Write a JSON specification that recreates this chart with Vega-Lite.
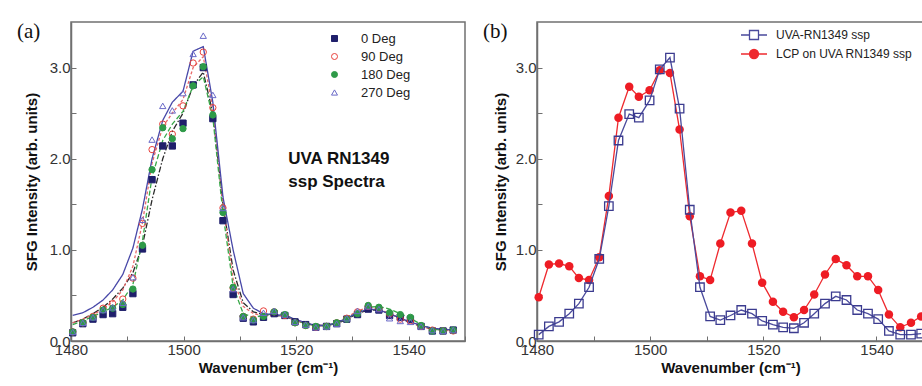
{
  "$schema": "https://vega.github.io/schema/vega-lite/v6.json",
  "background": "white",
  "padding": {"left": 16, "top": 20, "right": 0, "bottom": 0},
  "spacing": 15,
  "resolve": {
    "scale": {"x": "independent", "y": "independent", "color": "independent", "shape": "independent", "fill": "independent", "stroke": "independent", "strokeDash": "independent"},
    "legend": {"color": "independent", "shape": "independent", "fill": "independent", "stroke": "independent", "strokeDash": "independent"}
  },
  "datasets": {
    "a": [
      {"x":1480.3,"s":"0 Deg","y":0.09},{"x":1482.1,"s":"0 Deg","y":0.19},{"x":1483.9,"s":"0 Deg","y":0.24},{"x":1485.7,"s":"0 Deg","y":0.29},{"x":1487.4,"s":"0 Deg","y":0.30},{"x":1489.2,"s":"0 Deg","y":0.37},{"x":1491.0,"s":"0 Deg","y":0.52},{"x":1492.7,"s":"0 Deg","y":1.01},{"x":1494.4,"s":"0 Deg","y":1.77},{"x":1496.3,"s":"0 Deg","y":2.14},{"x":1498.0,"s":"0 Deg","y":2.14},{"x":1499.9,"s":"0 Deg","y":2.39},{"x":1501.7,"s":"0 Deg","y":2.81},{"x":1503.5,"s":"0 Deg","y":3.00},{"x":1505.2,"s":"0 Deg","y":2.44},{"x":1507.0,"s":"0 Deg","y":1.32},{"x":1508.8,"s":"0 Deg","y":0.51},{"x":1510.6,"s":"0 Deg","y":0.25},{"x":1512.4,"s":"0 Deg","y":0.21},{"x":1514.2,"s":"0 Deg","y":0.26},{"x":1516.1,"s":"0 Deg","y":0.30},{"x":1518.0,"s":"0 Deg","y":0.28},{"x":1519.8,"s":"0 Deg","y":0.21},{"x":1521.7,"s":"0 Deg","y":0.18},{"x":1523.5,"s":"0 Deg","y":0.15},{"x":1525.4,"s":"0 Deg","y":0.16},{"x":1527.2,"s":"0 Deg","y":0.19},{"x":1529.0,"s":"0 Deg","y":0.24},{"x":1530.9,"s":"0 Deg","y":0.29},{"x":1532.8,"s":"0 Deg","y":0.35},{"x":1534.7,"s":"0 Deg","y":0.34},{"x":1536.6,"s":"0 Deg","y":0.28},{"x":1538.5,"s":"0 Deg","y":0.26},{"x":1540.3,"s":"0 Deg","y":0.24},{"x":1542.2,"s":"0 Deg","y":0.16},{"x":1544.2,"s":"0 Deg","y":0.11},{"x":1546.1,"s":"0 Deg","y":0.11},{"x":1547.9,"s":"0 Deg","y":0.12},
      {"x":1480.3,"s":"90 Deg","y":0.10},{"x":1482.1,"s":"90 Deg","y":0.20},{"x":1483.9,"s":"90 Deg","y":0.27},{"x":1485.7,"s":"90 Deg","y":0.36},{"x":1487.4,"s":"90 Deg","y":0.41},{"x":1489.2,"s":"90 Deg","y":0.46},{"x":1491.0,"s":"90 Deg","y":0.69},{"x":1492.7,"s":"90 Deg","y":1.29},{"x":1494.4,"s":"90 Deg","y":2.10},{"x":1496.3,"s":"90 Deg","y":2.38},{"x":1498.0,"s":"90 Deg","y":2.27},{"x":1499.9,"s":"90 Deg","y":2.58},{"x":1501.7,"s":"90 Deg","y":3.05},{"x":1503.5,"s":"90 Deg","y":3.17},{"x":1505.2,"s":"90 Deg","y":2.56},{"x":1507.0,"s":"90 Deg","y":1.46},{"x":1508.8,"s":"90 Deg","y":0.58},{"x":1510.6,"s":"90 Deg","y":0.27},{"x":1512.4,"s":"90 Deg","y":0.24},{"x":1514.2,"s":"90 Deg","y":0.33},{"x":1516.1,"s":"90 Deg","y":0.32},{"x":1518.0,"s":"90 Deg","y":0.28},{"x":1519.8,"s":"90 Deg","y":0.20},{"x":1521.7,"s":"90 Deg","y":0.17},{"x":1523.5,"s":"90 Deg","y":0.15},{"x":1525.4,"s":"90 Deg","y":0.16},{"x":1527.2,"s":"90 Deg","y":0.20},{"x":1529.0,"s":"90 Deg","y":0.25},{"x":1530.9,"s":"90 Deg","y":0.32},{"x":1532.8,"s":"90 Deg","y":0.38},{"x":1534.7,"s":"90 Deg","y":0.36},{"x":1536.6,"s":"90 Deg","y":0.30},{"x":1538.5,"s":"90 Deg","y":0.24},{"x":1540.3,"s":"90 Deg","y":0.22},{"x":1542.2,"s":"90 Deg","y":0.16},{"x":1544.2,"s":"90 Deg","y":0.12},{"x":1546.1,"s":"90 Deg","y":0.11},{"x":1547.9,"s":"90 Deg","y":0.11},
      {"x":1480.3,"s":"180 Deg","y":0.10},{"x":1482.1,"s":"180 Deg","y":0.20},{"x":1483.9,"s":"180 Deg","y":0.26},{"x":1485.7,"s":"180 Deg","y":0.34},{"x":1487.4,"s":"180 Deg","y":0.36},{"x":1489.2,"s":"180 Deg","y":0.40},{"x":1491.0,"s":"180 Deg","y":0.57},{"x":1492.7,"s":"180 Deg","y":1.05},{"x":1494.4,"s":"180 Deg","y":1.88},{"x":1496.3,"s":"180 Deg","y":2.34},{"x":1498.0,"s":"180 Deg","y":2.22},{"x":1499.9,"s":"180 Deg","y":2.33},{"x":1501.7,"s":"180 Deg","y":2.80},{"x":1503.5,"s":"180 Deg","y":3.01},{"x":1505.2,"s":"180 Deg","y":2.48},{"x":1507.0,"s":"180 Deg","y":1.41},{"x":1508.8,"s":"180 Deg","y":0.59},{"x":1510.6,"s":"180 Deg","y":0.27},{"x":1512.4,"s":"180 Deg","y":0.23},{"x":1514.2,"s":"180 Deg","y":0.27},{"x":1516.1,"s":"180 Deg","y":0.32},{"x":1518.0,"s":"180 Deg","y":0.29},{"x":1519.8,"s":"180 Deg","y":0.20},{"x":1521.7,"s":"180 Deg","y":0.17},{"x":1523.5,"s":"180 Deg","y":0.16},{"x":1525.4,"s":"180 Deg","y":0.16},{"x":1527.2,"s":"180 Deg","y":0.20},{"x":1529.0,"s":"180 Deg","y":0.24},{"x":1530.9,"s":"180 Deg","y":0.30},{"x":1532.8,"s":"180 Deg","y":0.39},{"x":1534.7,"s":"180 Deg","y":0.37},{"x":1536.6,"s":"180 Deg","y":0.31},{"x":1538.5,"s":"180 Deg","y":0.29},{"x":1540.3,"s":"180 Deg","y":0.26},{"x":1542.2,"s":"180 Deg","y":0.17},{"x":1544.2,"s":"180 Deg","y":0.11},{"x":1546.1,"s":"180 Deg","y":0.11},{"x":1547.9,"s":"180 Deg","y":0.12},
      {"x":1480.3,"s":"270 Deg","y":0.10},{"x":1482.1,"s":"270 Deg","y":0.20},{"x":1483.9,"s":"270 Deg","y":0.26},{"x":1485.7,"s":"270 Deg","y":0.34},{"x":1487.4,"s":"270 Deg","y":0.37},{"x":1489.2,"s":"270 Deg","y":0.42},{"x":1491.0,"s":"270 Deg","y":0.70},{"x":1492.7,"s":"270 Deg","y":1.33},{"x":1494.4,"s":"270 Deg","y":2.21},{"x":1496.3,"s":"270 Deg","y":2.58},{"x":1498.0,"s":"270 Deg","y":2.53},{"x":1499.9,"s":"270 Deg","y":2.72},{"x":1501.7,"s":"270 Deg","y":3.15},{"x":1503.5,"s":"270 Deg","y":3.35},{"x":1505.2,"s":"270 Deg","y":2.70},{"x":1507.0,"s":"270 Deg","y":1.46},{"x":1508.8,"s":"270 Deg","y":0.57},{"x":1510.6,"s":"270 Deg","y":0.26},{"x":1512.4,"s":"270 Deg","y":0.23},{"x":1514.2,"s":"270 Deg","y":0.31},{"x":1516.1,"s":"270 Deg","y":0.33},{"x":1518.0,"s":"270 Deg","y":0.29},{"x":1519.8,"s":"270 Deg","y":0.21},{"x":1521.7,"s":"270 Deg","y":0.18},{"x":1523.5,"s":"270 Deg","y":0.15},{"x":1525.4,"s":"270 Deg","y":0.16},{"x":1527.2,"s":"270 Deg","y":0.19},{"x":1529.0,"s":"270 Deg","y":0.25},{"x":1530.9,"s":"270 Deg","y":0.33},{"x":1532.8,"s":"270 Deg","y":0.38},{"x":1534.7,"s":"270 Deg","y":0.35},{"x":1536.6,"s":"270 Deg","y":0.25},{"x":1538.5,"s":"270 Deg","y":0.22},{"x":1540.3,"s":"270 Deg","y":0.21},{"x":1542.2,"s":"270 Deg","y":0.16},{"x":1544.2,"s":"270 Deg","y":0.12},{"x":1546.1,"s":"270 Deg","y":0.11},{"x":1547.9,"s":"270 Deg","y":0.12}
    ],
    "af": [
      {"x":1480.3,"s":"fit 0","y":0.20},{"x":1482.1,"s":"fit 0","y":0.24},{"x":1483.9,"s":"fit 0","y":0.30},{"x":1485.7,"s":"fit 0","y":0.37},{"x":1487.4,"s":"fit 0","y":0.46},{"x":1489.2,"s":"fit 0","y":0.58},{"x":1491.0,"s":"fit 0","y":0.75},{"x":1492.7,"s":"fit 0","y":1.05},{"x":1494.4,"s":"fit 0","y":1.55},{"x":1496.3,"s":"fit 0","y":2.00},{"x":1498.0,"s":"fit 0","y":2.30},{"x":1499.9,"s":"fit 0","y":2.50},{"x":1501.7,"s":"fit 0","y":2.80},{"x":1503.5,"s":"fit 0","y":2.95},{"x":1505.2,"s":"fit 0","y":2.50},{"x":1507.0,"s":"fit 0","y":1.50},{"x":1508.8,"s":"fit 0","y":0.78},{"x":1510.6,"s":"fit 0","y":0.42},{"x":1512.4,"s":"fit 0","y":0.32},{"x":1514.2,"s":"fit 0","y":0.29},{"x":1516.1,"s":"fit 0","y":0.28},{"x":1518.0,"s":"fit 0","y":0.27},{"x":1519.8,"s":"fit 0","y":0.23},{"x":1521.7,"s":"fit 0","y":0.19},{"x":1523.5,"s":"fit 0","y":0.17},{"x":1525.4,"s":"fit 0","y":0.17},{"x":1527.2,"s":"fit 0","y":0.19},{"x":1529.0,"s":"fit 0","y":0.24},{"x":1530.9,"s":"fit 0","y":0.30},{"x":1532.8,"s":"fit 0","y":0.34},{"x":1534.7,"s":"fit 0","y":0.34},{"x":1536.6,"s":"fit 0","y":0.30},{"x":1538.5,"s":"fit 0","y":0.25},{"x":1540.3,"s":"fit 0","y":0.20},{"x":1542.2,"s":"fit 0","y":0.16},{"x":1544.2,"s":"fit 0","y":0.13},{"x":1546.1,"s":"fit 0","y":0.12},{"x":1547.9,"s":"fit 0","y":0.12},
      {"x":1480.3,"s":"fit 90","y":0.20},{"x":1482.1,"s":"fit 90","y":0.24},{"x":1483.9,"s":"fit 90","y":0.29},{"x":1485.7,"s":"fit 90","y":0.35},{"x":1487.4,"s":"fit 90","y":0.43},{"x":1489.2,"s":"fit 90","y":0.56},{"x":1491.0,"s":"fit 90","y":0.82},{"x":1492.7,"s":"fit 90","y":1.30},{"x":1494.4,"s":"fit 90","y":1.95},{"x":1496.3,"s":"fit 90","y":2.35},{"x":1498.0,"s":"fit 90","y":2.50},{"x":1499.9,"s":"fit 90","y":2.65},{"x":1501.7,"s":"fit 90","y":3.00},{"x":1503.5,"s":"fit 90","y":3.12},{"x":1505.2,"s":"fit 90","y":2.55},{"x":1507.0,"s":"fit 90","y":1.50},{"x":1508.8,"s":"fit 90","y":0.68},{"x":1510.6,"s":"fit 90","y":0.38},{"x":1512.4,"s":"fit 90","y":0.30},{"x":1514.2,"s":"fit 90","y":0.28},{"x":1516.1,"s":"fit 90","y":0.28},{"x":1518.0,"s":"fit 90","y":0.27},{"x":1519.8,"s":"fit 90","y":0.23},{"x":1521.7,"s":"fit 90","y":0.19},{"x":1523.5,"s":"fit 90","y":0.17},{"x":1525.4,"s":"fit 90","y":0.17},{"x":1527.2,"s":"fit 90","y":0.20},{"x":1529.0,"s":"fit 90","y":0.26},{"x":1530.9,"s":"fit 90","y":0.33},{"x":1532.8,"s":"fit 90","y":0.37},{"x":1534.7,"s":"fit 90","y":0.35},{"x":1536.6,"s":"fit 90","y":0.30},{"x":1538.5,"s":"fit 90","y":0.25},{"x":1540.3,"s":"fit 90","y":0.20},{"x":1542.2,"s":"fit 90","y":0.16},{"x":1544.2,"s":"fit 90","y":0.13},{"x":1546.1,"s":"fit 90","y":0.12},{"x":1547.9,"s":"fit 90","y":0.11},
      {"x":1480.3,"s":"fit 180","y":0.18},{"x":1482.1,"s":"fit 180","y":0.22},{"x":1483.9,"s":"fit 180","y":0.27},{"x":1485.7,"s":"fit 180","y":0.32},{"x":1487.4,"s":"fit 180","y":0.37},{"x":1489.2,"s":"fit 180","y":0.45},{"x":1491.0,"s":"fit 180","y":0.62},{"x":1492.7,"s":"fit 180","y":1.10},{"x":1494.4,"s":"fit 180","y":1.80},{"x":1496.3,"s":"fit 180","y":2.20},{"x":1498.0,"s":"fit 180","y":2.38},{"x":1499.9,"s":"fit 180","y":2.52},{"x":1501.7,"s":"fit 180","y":2.80},{"x":1503.5,"s":"fit 180","y":2.90},{"x":1505.2,"s":"fit 180","y":2.45},{"x":1507.0,"s":"fit 180","y":1.40},{"x":1508.8,"s":"fit 180","y":0.60},{"x":1510.6,"s":"fit 180","y":0.30},{"x":1512.4,"s":"fit 180","y":0.26},{"x":1514.2,"s":"fit 180","y":0.28},{"x":1516.1,"s":"fit 180","y":0.30},{"x":1518.0,"s":"fit 180","y":0.29},{"x":1519.8,"s":"fit 180","y":0.23},{"x":1521.7,"s":"fit 180","y":0.19},{"x":1523.5,"s":"fit 180","y":0.17},{"x":1525.4,"s":"fit 180","y":0.17},{"x":1527.2,"s":"fit 180","y":0.20},{"x":1529.0,"s":"fit 180","y":0.25},{"x":1530.9,"s":"fit 180","y":0.31},{"x":1532.8,"s":"fit 180","y":0.37},{"x":1534.7,"s":"fit 180","y":0.38},{"x":1536.6,"s":"fit 180","y":0.35},{"x":1538.5,"s":"fit 180","y":0.30},{"x":1540.3,"s":"fit 180","y":0.25},{"x":1542.2,"s":"fit 180","y":0.18},{"x":1544.2,"s":"fit 180","y":0.13},{"x":1546.1,"s":"fit 180","y":0.12},{"x":1547.9,"s":"fit 180","y":0.12},
      {"x":1480.3,"s":"fit 270","y":0.28},{"x":1482.1,"s":"fit 270","y":0.31},{"x":1483.9,"s":"fit 270","y":0.37},{"x":1485.7,"s":"fit 270","y":0.45},{"x":1487.4,"s":"fit 270","y":0.56},{"x":1489.2,"s":"fit 270","y":0.73},{"x":1491.0,"s":"fit 270","y":1.02},{"x":1492.7,"s":"fit 270","y":1.45},{"x":1494.4,"s":"fit 270","y":2.00},{"x":1496.3,"s":"fit 270","y":2.42},{"x":1498.0,"s":"fit 270","y":2.62},{"x":1499.9,"s":"fit 270","y":2.74},{"x":1501.7,"s":"fit 270","y":3.18},{"x":1503.5,"s":"fit 270","y":3.23},{"x":1505.2,"s":"fit 270","y":2.62},{"x":1507.0,"s":"fit 270","y":1.58},{"x":1508.8,"s":"fit 270","y":1.00},{"x":1510.6,"s":"fit 270","y":0.52},{"x":1512.4,"s":"fit 270","y":0.36},{"x":1514.2,"s":"fit 270","y":0.30},{"x":1516.1,"s":"fit 270","y":0.29},{"x":1518.0,"s":"fit 270","y":0.28},{"x":1519.8,"s":"fit 270","y":0.24},{"x":1521.7,"s":"fit 270","y":0.20},{"x":1523.5,"s":"fit 270","y":0.17},{"x":1525.4,"s":"fit 270","y":0.17},{"x":1527.2,"s":"fit 270","y":0.20},{"x":1529.0,"s":"fit 270","y":0.25},{"x":1530.9,"s":"fit 270","y":0.31},{"x":1532.8,"s":"fit 270","y":0.35},{"x":1534.7,"s":"fit 270","y":0.34},{"x":1536.6,"s":"fit 270","y":0.30},{"x":1538.5,"s":"fit 270","y":0.25},{"x":1540.3,"s":"fit 270","y":0.21},{"x":1542.2,"s":"fit 270","y":0.17},{"x":1544.2,"s":"fit 270","y":0.14},{"x":1546.1,"s":"fit 270","y":0.13},{"x":1547.9,"s":"fit 270","y":0.12}
    ],
    "b": [
      {"x":1480.3,"s":"LCP on UVA RN1349 ssp","y":0.48},{"x":1482.1,"s":"LCP on UVA RN1349 ssp","y":0.84},{"x":1483.9,"s":"LCP on UVA RN1349 ssp","y":0.85},{"x":1485.7,"s":"LCP on UVA RN1349 ssp","y":0.82},{"x":1487.4,"s":"LCP on UVA RN1349 ssp","y":0.69},{"x":1489.2,"s":"LCP on UVA RN1349 ssp","y":0.67},{"x":1491.0,"s":"LCP on UVA RN1349 ssp","y":0.92},{"x":1492.7,"s":"LCP on UVA RN1349 ssp","y":1.59},{"x":1494.4,"s":"LCP on UVA RN1349 ssp","y":2.45},{"x":1496.3,"s":"LCP on UVA RN1349 ssp","y":2.79},{"x":1498.0,"s":"LCP on UVA RN1349 ssp","y":2.68},{"x":1499.9,"s":"LCP on UVA RN1349 ssp","y":2.75},{"x":1501.7,"s":"LCP on UVA RN1349 ssp","y":2.97},{"x":1503.5,"s":"LCP on UVA RN1349 ssp","y":2.94},{"x":1505.2,"s":"LCP on UVA RN1349 ssp","y":2.32},{"x":1507.0,"s":"LCP on UVA RN1349 ssp","y":1.37},{"x":1508.8,"s":"LCP on UVA RN1349 ssp","y":0.71},{"x":1510.6,"s":"LCP on UVA RN1349 ssp","y":0.67},{"x":1512.4,"s":"LCP on UVA RN1349 ssp","y":1.07},{"x":1514.2,"s":"LCP on UVA RN1349 ssp","y":1.41},{"x":1516.1,"s":"LCP on UVA RN1349 ssp","y":1.43},{"x":1518.0,"s":"LCP on UVA RN1349 ssp","y":1.07},{"x":1519.8,"s":"LCP on UVA RN1349 ssp","y":0.64},{"x":1521.7,"s":"LCP on UVA RN1349 ssp","y":0.43},{"x":1523.5,"s":"LCP on UVA RN1349 ssp","y":0.32},{"x":1525.4,"s":"LCP on UVA RN1349 ssp","y":0.26},{"x":1527.2,"s":"LCP on UVA RN1349 ssp","y":0.34},{"x":1529.0,"s":"LCP on UVA RN1349 ssp","y":0.51},{"x":1530.9,"s":"LCP on UVA RN1349 ssp","y":0.73},{"x":1532.8,"s":"LCP on UVA RN1349 ssp","y":0.90},{"x":1534.7,"s":"LCP on UVA RN1349 ssp","y":0.83},{"x":1536.6,"s":"LCP on UVA RN1349 ssp","y":0.71},{"x":1538.5,"s":"LCP on UVA RN1349 ssp","y":0.71},{"x":1540.3,"s":"LCP on UVA RN1349 ssp","y":0.56},{"x":1542.2,"s":"LCP on UVA RN1349 ssp","y":0.29},{"x":1544.2,"s":"LCP on UVA RN1349 ssp","y":0.15},{"x":1546.1,"s":"LCP on UVA RN1349 ssp","y":0.20},{"x":1547.9,"s":"LCP on UVA RN1349 ssp","y":0.27},
      {"x":1480.3,"s":"UVA-RN1349 ssp","y":0.07},{"x":1482.1,"s":"UVA-RN1349 ssp","y":0.16},{"x":1483.9,"s":"UVA-RN1349 ssp","y":0.21},{"x":1485.7,"s":"UVA-RN1349 ssp","y":0.30},{"x":1487.4,"s":"UVA-RN1349 ssp","y":0.41},{"x":1489.2,"s":"UVA-RN1349 ssp","y":0.59},{"x":1491.0,"s":"UVA-RN1349 ssp","y":0.90},{"x":1492.7,"s":"UVA-RN1349 ssp","y":1.48},{"x":1494.4,"s":"UVA-RN1349 ssp","y":2.20},{"x":1496.3,"s":"UVA-RN1349 ssp","y":2.49},{"x":1498.0,"s":"UVA-RN1349 ssp","y":2.45},{"x":1499.9,"s":"UVA-RN1349 ssp","y":2.64},{"x":1501.7,"s":"UVA-RN1349 ssp","y":2.98},{"x":1503.5,"s":"UVA-RN1349 ssp","y":3.11},{"x":1505.2,"s":"UVA-RN1349 ssp","y":2.55},{"x":1507.0,"s":"UVA-RN1349 ssp","y":1.44},{"x":1508.8,"s":"UVA-RN1349 ssp","y":0.59},{"x":1510.6,"s":"UVA-RN1349 ssp","y":0.27},{"x":1512.4,"s":"UVA-RN1349 ssp","y":0.23},{"x":1514.2,"s":"UVA-RN1349 ssp","y":0.28},{"x":1516.1,"s":"UVA-RN1349 ssp","y":0.34},{"x":1518.0,"s":"UVA-RN1349 ssp","y":0.30},{"x":1519.8,"s":"UVA-RN1349 ssp","y":0.22},{"x":1521.7,"s":"UVA-RN1349 ssp","y":0.18},{"x":1523.5,"s":"UVA-RN1349 ssp","y":0.15},{"x":1525.4,"s":"UVA-RN1349 ssp","y":0.14},{"x":1527.2,"s":"UVA-RN1349 ssp","y":0.20},{"x":1529.0,"s":"UVA-RN1349 ssp","y":0.30},{"x":1530.9,"s":"UVA-RN1349 ssp","y":0.41},{"x":1532.8,"s":"UVA-RN1349 ssp","y":0.49},{"x":1534.7,"s":"UVA-RN1349 ssp","y":0.45},{"x":1536.6,"s":"UVA-RN1349 ssp","y":0.34},{"x":1538.5,"s":"UVA-RN1349 ssp","y":0.30},{"x":1540.3,"s":"UVA-RN1349 ssp","y":0.24},{"x":1542.2,"s":"UVA-RN1349 ssp","y":0.11},{"x":1544.2,"s":"UVA-RN1349 ssp","y":0.07},{"x":1546.1,"s":"UVA-RN1349 ssp","y":0.07},{"x":1547.9,"s":"UVA-RN1349 ssp","y":0.08}
    ]
  },
  "hconcat": [
    {
      "width": 394,
      "height": 319,
      "layer": [
        {
          "data": {"name": "af"},
          "mark": {"type": "line", "strokeWidth": 1.3},
          "encoding": {
            "x": {"field": "x", "type": "quantitative", "scale": {"domain": [1480, 1550], "nice": false, "zero": false},
                  "axis": {"values": [1480,1490,1500,1510,1520,1530,1540,1550], "format": "d", "labelExpr": "datum.value % 20 === 0 ? datum.label : ''", "title": "Wavenumber (cm⁻¹)"}},
            "y": {"field": "y", "type": "quantitative", "scale": {"domain": [0, 3.5], "nice": false},
                  "axis": {"values": [0,0.5,1,1.5,2,2.5,3], "format": ".1f", "labelExpr": "datum.value % 1 === 0 ? datum.label : ''", "title": "SFG Intensity (arb. units)", "titlePadding": 10}},
            "color": {"field": "s", "type": "nominal", "legend": null,
                      "scale": {"domain": ["fit 0","fit 90","fit 180","fit 270"], "range": ["#2a2a2a","#e86a6a","#38a848","#4848a8"]}},
            "strokeDash": {"field": "s", "type": "nominal", "legend": null,
                      "scale": {"domain": ["fit 0","fit 90","fit 180","fit 270"], "range": [[6,2,1.5,2],[3,2],[5,2.5],[1,0]]}}
          }
        },
        {
          "data": {"name": "a"},
          "mark": {"type": "point", "filled": true, "strokeWidth": 1, "opacity": 1},
          "encoding": {
            "x": {"field": "x", "type": "quantitative"},
            "y": {"field": "y", "type": "quantitative"},
            "shape": {"field": "s", "type": "nominal",
                      "scale": {"domain": ["0 Deg","90 Deg","180 Deg","270 Deg"], "range": ["square","circle","circle","triangle-up"]},
                      "legend": {"title": null, "orient": "none", "legendX": 257, "legendY": 10, "labelFontSize": 13, "labelColor": "#222", "symbolSize": 36, "labelOffset": 20, "rowPadding": 4, "symbolStrokeWidth": 1}},
            "fill": {"field": "s", "type": "nominal",
                     "scale": {"domain": ["0 Deg","90 Deg","180 Deg","270 Deg"], "range": ["#1f1f6b","transparent","#2e9a48","transparent"]}},
            "stroke": {"field": "s", "type": "nominal",
                     "scale": {"domain": ["0 Deg","90 Deg","180 Deg","270 Deg"], "range": ["#1f1f6b","#e8413c","#2e9a48","#6a6ac8"]}},
            "size": {"value": 40}
          }
        },
        {
          "data": {"values": [{"t": "(a)"}]},
          "mark": {"type": "text", "font": "Liberation Serif", "fontSize": 21, "align": "left", "baseline": "middle", "dx": -54, "dy": 10, "color": "#111"},
          "encoding": {"x": {"datum": 1480}, "y": {"datum": 3.5}, "text": {"field": "t"}}
        },
        {
          "data": {"values": [{"t": ["UVA RN1349", "ssp Spectra"]}]},
          "mark": {"type": "text", "fontSize": 17, "fontWeight": "bold", "align": "left", "baseline": "middle", "lineHeight": 23, "color": "#111"},
          "encoding": {"x": {"datum": 1518.6}, "y": {"datum": 2.0}, "text": {"field": "t"}}
        }
      ]
    },
    {
      "width": 387,
      "height": 319,
      "resolve": {"scale": {"color": "independent"}, "legend": {"color": "independent"}},
      "layer": [
        {
          "data": {"name": "b"},
          "transform": [{"filter": "datum.s === 'LCP on UVA RN1349 ssp'"}],
          "mark": {"type": "line", "strokeWidth": 1.3},
          "encoding": {
            "x": {"field": "x", "type": "quantitative", "scale": {"domain": [1480, 1548.4], "nice": false, "zero": false},
                  "axis": {"values": [1480,1490,1500,1510,1520,1530,1540], "format": "d", "labelExpr": "datum.value % 20 === 0 ? datum.label : ''", "title": "Wavenumber (cm⁻¹)"}},
            "y": {"field": "y", "type": "quantitative", "scale": {"domain": [0, 3.5], "nice": false},
                  "axis": {"values": [0,0.5,1,1.5,2,2.5,3], "format": ".1f", "labelExpr": "datum.value % 1 === 0 ? datum.label : ''", "title": "SFG Intensity (arb. units)", "titlePadding": 7}},
            "color": {"field": "s", "type": "nominal",
                      "scale": {"domain": ["LCP on UVA RN1349 ssp"], "range": ["#ee2a2f"]},
                      "legend": {"title": null, "orient": "none", "legendX": 211, "legendY": 26, "labelFontSize": 12, "labelColor": "#222", "symbolSize": 100, "labelOffset": 16, "symbolStrokeWidth": 1.3, "symbolFillColor": "#ee1c24",
                                 "symbolType": "M-2.6,0H2.6M0.9,0A0.9,0.9,0,1,1,-0.9,0A0.9,0.9,0,1,1,0.9,0M0.65,0A0.65,0.65,0,1,1,-0.65,0A0.65,0.65,0,1,1,0.65,0M0.4,0A0.4,0.4,0,1,1,-0.4,0A0.4,0.4,0,1,1,0.4,0M0.15,0A0.15,0.15,0,1,1,-0.15,0A0.15,0.15,0,1,1,0.15,0"}}
          }
        },
        {
          "data": {"name": "b"},
          "transform": [{"filter": "datum.s === 'LCP on UVA RN1349 ssp'"}],
          "mark": {"type": "point", "shape": "circle", "filled": true, "color": "#ee1c24", "size": 72, "opacity": 1},
          "encoding": {
            "x": {"field": "x", "type": "quantitative"},
            "y": {"field": "y", "type": "quantitative"}
          }
        },
        {
          "data": {"name": "b"},
          "transform": [{"filter": "datum.s === 'UVA-RN1349 ssp'"}],
          "mark": {"type": "line", "strokeWidth": 1.3},
          "encoding": {
            "x": {"field": "x", "type": "quantitative"},
            "y": {"field": "y", "type": "quantitative"},
            "color": {"field": "s", "type": "nominal",
                      "scale": {"domain": ["UVA-RN1349 ssp"], "range": ["#4a4a9c"]},
                      "legend": {"title": null, "orient": "none", "legendX": 211, "legendY": 7, "labelFontSize": 12, "labelColor": "#222", "symbolSize": 100, "labelOffset": 16, "symbolStrokeWidth": 1.3, "symbolFillColor": "transparent",
                                 "symbolType": "M-2.6,0H-0.9M0.9,0H2.6M-0.9,-0.9H0.9V0.9H-0.9Z"}}
          }
        },
        {
          "data": {"name": "b"},
          "transform": [{"filter": "datum.s === 'UVA-RN1349 ssp'"}],
          "mark": {"type": "point", "shape": "square", "filled": false, "stroke": "#3b3b8f", "fill": "transparent", "strokeWidth": 1.3, "size": 72, "opacity": 1},
          "encoding": {
            "x": {"field": "x", "type": "quantitative"},
            "y": {"field": "y", "type": "quantitative"}
          }
        },
        {
          "data": {"values": [{"t": "(b)"}]},
          "mark": {"type": "text", "font": "Liberation Serif", "fontSize": 21, "align": "left", "baseline": "middle", "dx": -54, "dy": 10, "color": "#111"},
          "encoding": {"x": {"datum": 1480}, "y": {"datum": 3.5}, "text": {"field": "t"}}
        }
      ]
    }
  ],
  "config": {
    "font": "Liberation Sans",
    "view": {"stroke": "#707070", "strokeWidth": 1.5},
    "axis": {
      "grid": false,
      "domainColor": "#707070", "domainWidth": 1.5,
      "tickColor": "#707070", "tickSize": -5, "tickWidth": 1,
      "labelFont": "Liberation Sans", "labelFontSize": 15, "labelColor": "#333", "labelFlush": false, "labelOverlap": false, "labelPadding": 6,
      "titleFont": "Liberation Sans", "titleFontSize": 15, "titleFontWeight": "bold", "titleColor": "#111"
    },
    "axisX": {"titlePadding": 3},
    "legend": {"labelFont": "Liberation Sans"}
  }
}
